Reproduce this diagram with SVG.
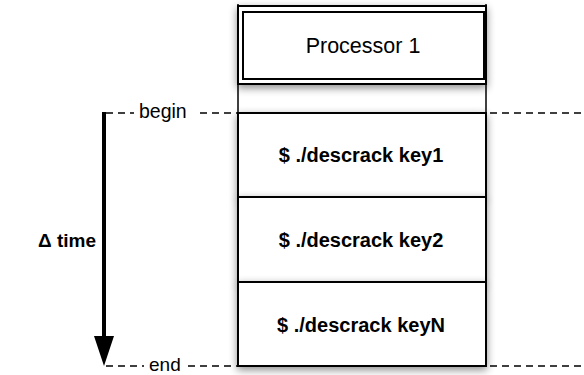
<svg xmlns="http://www.w3.org/2000/svg" width="584" height="375" viewBox="0 0 584 375">
<defs>
<filter id="sh" x="-20%" y="-20%" width="140%" height="150%">
<feGaussianBlur in="SourceAlpha" stdDeviation="4"/>
<feOffset dx="0" dy="3" result="b"/>
<feComponentTransfer><feFuncA type="linear" slope="0.45"/></feComponentTransfer>
<feMerge><feMergeNode/><feMergeNode in="SourceGraphic"/></feMerge>
</filter>
</defs>
<style>
.box{fill:#fff;stroke:#000;stroke-width:2}
.cmd{font-family:"Liberation Sans",Arial,sans-serif;font-size:20px;font-weight:bold;text-anchor:middle;fill:#000}
.lbl{font-family:"Liberation Sans",Arial,sans-serif;font-size:19.5px;fill:#000}
.dash{stroke:#000;stroke-width:1.3;stroke-dasharray:7,5;fill:none}
</style>
<g id="connectors">
<line class="dash" x1="106" y1="113" x2="134" y2="113"/>
<line class="dash" x1="200" y1="113" x2="238" y2="113"/>
<line class="dash" x1="490" y1="113" x2="584" y2="113"/>
<line class="dash" x1="106" y1="366" x2="144" y2="366"/>
<line class="dash" x1="188" y1="366" x2="238" y2="366"/>
<line class="dash" x1="490" y1="366" x2="584" y2="366"/>
<line x1="104" y1="112" x2="104" y2="338" stroke="#000" stroke-width="4"/>
<polygon points="94,336 114,336 104,366" fill="#000"/>
<line x1="238" y1="4" x2="238" y2="366" stroke="#000" stroke-width="1.5"/>
<line x1="486" y1="4" x2="486" y2="366" stroke="#000" stroke-width="1.5"/>
</g>
<g id="processor">
<rect class="box" x="238" y="6" width="248" height="78" filter="url(#sh)"/>
<rect class="box" x="243" y="12" width="241" height="67"/>
<text class="lbl" x="363" y="53" text-anchor="middle" style="font-size:21.5px">Processor 1</text>
</g>
<g id="task1">
<rect class="box" x="238" y="113" width="248" height="84" filter="url(#sh)"/>
<text class="cmd" x="361" y="162">$ ./descrack key1</text>
</g>
<g id="task2">
<rect class="box" x="238" y="197" width="248" height="85" filter="url(#sh)"/>
<text class="cmd" x="361" y="247">$ ./descrack key2</text>
</g>
<g id="task3">
<rect class="box" x="238" y="282" width="248" height="84" filter="url(#sh)"/>
<text class="cmd" x="361" y="332">$ ./descrack keyN</text>
</g>
<g id="labels">
<text class="lbl" x="139" y="118">begin</text>
<text class="lbl" x="149" y="371" style="font-size:19px">end</text>
<text x="38" y="247" font-family="'Liberation Sans',Arial,sans-serif" font-size="19" font-weight="bold">Δ time</text>
</g>
</svg>
